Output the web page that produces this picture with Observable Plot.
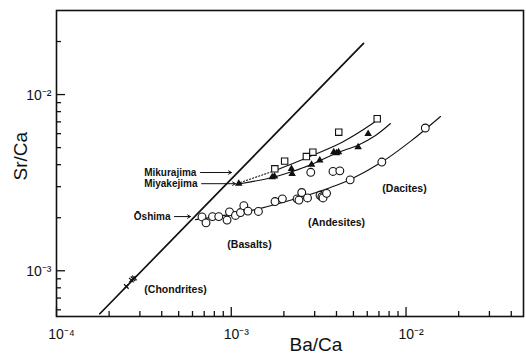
<!DOCTYPE html>
<html><head><meta charset="utf-8">
<script src="https://cdn.jsdelivr.net/npm/d3@7"></script>
<script src="https://cdn.jsdelivr.net/npm/@observablehq/plot@0.6"></script>
<style>body{margin:0;background:#fff;font-family:"Liberation Sans",Arial,sans-serif;}</style>
</head><body><div id="chart"></div>
<script>
// ---- data (Ba/Ca, Sr/Ca) ----
const oshimaBa = [6.80e-4, 7.17e-4, 7.81e-4, 8.48e-4, 9.46e-4, 9.77e-4, 1.057e-3, 1.129e-3, 1.18e-3, 1.246e-3, 1.43e-3, 1.78e-3, 1.96e-3, 2.38e-3, 2.44e-3, 2.53e-3, 2.73e-3, 3.22e-3, 3.30e-3, 3.35e-3, 3.51e-3, 2.85e-3, 3.82e-3, 4.18e-3, 4.79e-3, 7.27e-3, 1.289e-2];
const oshimaSr = [2.02e-3, 1.87e-3, 2.03e-3, 2.03e-3, 1.94e-3, 2.16e-3, 2.06e-3, 2.14e-3, 2.34e-3, 2.18e-3, 2.17e-3, 2.47e-3, 2.56e-3, 2.56e-3, 2.52e-3, 2.78e-3, 2.59e-3, 2.68e-3, 2.63e-3, 2.59e-3, 2.75e-3, 3.62e-3, 3.66e-3, 3.69e-3, 3.28e-3, 4.14e-3, 6.46e-3];
const miyakeBa = [1.104e-3, 1.715e-3, 1.767e-3, 2.21e-3, 2.23e-3, 2.88e-3, 3.21e-3, 3.86e-3, 4.0e-3, 4.11e-3, 5.32e-3, 6.07e-3];
const miyakeSr = [3.12e-3, 3.40e-3, 3.43e-3, 3.79e-3, 3.55e-3, 4.0e-3, 4.23e-3, 4.71e-3, 4.66e-3, 4.71e-3, 5.03e-3, 5.99e-3];
const mikuraBa = [1.775e-3, 2.02e-3, 2.69e-3, 2.93e-3, 4.12e-3, 6.84e-3];
const mikuraSr = [3.79e-3, 4.19e-3, 4.45e-3, 4.71e-3, 6.12e-3, 7.29e-3];
const chondBa = [2.51e-4, 2.68e-4, 2.74e-4, 2.79e-4];
const chondSr = [8.14e-4, 8.85e-4, 9.0e-4, 9.1e-4];

// trend curves
const oshimaTrendBa = [6.24e-4, 9.9e-4, 1.47e-3, 2.49e-3, 3.70e-3, 4.81e-3, 7.27e-3, 1.06e-2, 1.575e-2];
const oshimaTrendSr = [1.95e-3, 2.09e-3, 2.26e-3, 2.61e-3, 2.97e-3, 3.30e-3, 4.14e-3, 5.42e-3, 7.51e-3];
const miyakeTrendBa = [1.10e-3, 1.722e-3, 2.24e-3, 2.88e-3, 3.95e-3, 5.35e-3, 6.69e-3, 8.15e-3];
const miyakeTrendSr = [3.11e-3, 3.38e-3, 3.66e-3, 4.01e-3, 4.63e-3, 5.18e-3, 5.86e-3, 6.85e-3];
const mikuraTrendBa = [1.79e-3, 2.90e-3, 4.31e-3, 6.40e-3, 7.14e-3];
const mikuraTrendSr = [3.71e-3, 4.51e-3, 5.37e-3, 6.83e-3, 7.41e-3];
const mikuraDotBa = [1.129e-3, 1.79e-3];
const mikuraDotSr = [3.17e-3, 3.71e-3];
const chondLineBa = [1.77e-4, 5.71e-3];
const chondLineSr = [5.70e-4, 1.95e-2];

// annotations
const islandNames = ["Mikurajima", "Miyakejima", "Ōshima"];
const islandTextBa = [6.32e-4, 6.41e-4, 4.49e-4];
const islandTextSr = [3.61e-3, 3.12e-3, 2.03e-3];
const islandArrowBa1 = [6.67e-4, 6.76e-4, 4.73e-4];
const islandArrowBa2 = [1.003e-3, 1.057e-3, 5.84e-4];
const rockNames = ["(Basalts)", "(Andesites)", "(Dacites)", "(Chondrites)"];
const rockBa = [1.272e-3, 4.0e-3, 9.8e-3, 4.80e-4];
const rockSr = [1.41e-3, 1.88e-3, 2.93e-3, 7.83e-4];

// ticks
const xMajor = [1e-4, 1e-3, 1e-2];
const xMinor = [2e-4,3e-4,4e-4,5e-4,6e-4,7e-4,8e-4,9e-4,2e-3,3e-3,4e-3,5e-3,6e-3,7e-3,8e-3,9e-3,2e-2,3e-2,4e-2];
const yMajor = [1e-3, 1e-2];
const yMinor = [6e-4,7e-4,8e-4,9e-4,2e-3,3e-3,4e-3,5e-3,6e-3,7e-3,8e-3,9e-3,2e-2];

const zip = (a, b) => a.map((v, i) => ({x: v, y: b[i]}));
const sup = {"-": "⁻", "0":"⁰","1":"¹","2":"²","3":"³","4":"⁴","5":"⁵","6":"⁶","7":"⁷","8":"⁸","9":"⁹"};
const pow = d => "10" + String(Math.round(Math.log10(d))).split("").map(c => sup[c]).join("");

const islands = islandNames.map((n, i) => ({n, x: islandTextBa[i], y: islandTextSr[i], x1: islandArrowBa1[i], x2: islandArrowBa2[i]}));
const rocks = rockNames.map((n, i) => ({n, x: rockBa[i], y: rockSr[i]}));
const font = "Liberation Sans, Arial, sans-serif";

const chart = Plot.plot({
  width: 526, height: 359,
  marginLeft: 56, marginRight: 3, marginTop: 10, marginBottom: 43,
  style: {fontFamily: font, background: "#fff", color: "#111"},
  x: {type: "log", domain: [1e-4, 4.7e-2]},
  y: {type: "log", domain: [5.5e-4, 3e-2]},
  marks: [
    Plot.axisX(xMinor, {tickSize: -5, tickFormat: () => "", label: null, strokeWidth: 1.3}),
    Plot.axisX(xMajor, {tickSize: -9, tickFormat: () => "", label: null, strokeWidth: 1.3}),
    Plot.axisY(yMinor, {tickSize: -5, tickFormat: () => "", label: null, strokeWidth: 1.3}),
    Plot.axisY(yMajor, {tickSize: -9, tickFormat: () => "", label: null, strokeWidth: 1.3}),
    Plot.text(xMajor, {x: d => d, frameAnchor: "bottom", text: pow, lineAnchor: "top", dy: 13, dx: 5, fontSize: 14, fill: "#111"}),
    Plot.text(yMajor, {y: d => d, frameAnchor: "left", text: pow, textAnchor: "end", dx: -5, dy: 1, fontSize: 14, fill: "#111"}),
    Plot.frame({stroke: "#111", strokeWidth: 1.6}),
    Plot.line(zip(chondLineBa, chondLineSr), {x: "x", y: "y", stroke: "#111", strokeWidth: 1.7}),
    Plot.line(zip(oshimaTrendBa, oshimaTrendSr), {x: "x", y: "y", stroke: "#111", strokeWidth: 1.1, curve: "catmull-rom"}),
    Plot.line(zip(miyakeTrendBa, miyakeTrendSr), {x: "x", y: "y", stroke: "#111", strokeWidth: 1.1, curve: "catmull-rom"}),
    Plot.line(zip(mikuraTrendBa, mikuraTrendSr), {x: "x", y: "y", stroke: "#111", strokeWidth: 1.1, curve: "catmull-rom"}),
    Plot.line(zip(mikuraDotBa, mikuraDotSr), {x: "x", y: "y", stroke: "#111", strokeWidth: 1.1, strokeDasharray: "1.2,2"}),
    Plot.dot(zip(oshimaBa, oshimaSr), {x: "x", y: "y", r: 3.9, stroke: "#111", fill: "white", strokeWidth: 1.1}),
    Plot.dot(zip(mikuraBa, mikuraSr), {x: "x", y: "y", r: 3.6, symbol: "square", stroke: "#111", fill: "white", strokeWidth: 1.1}),
    Plot.dot(zip(miyakeBa, miyakeSr), {x: "x", y: "y", r: 2.8, symbol: "triangle", fill: "#111", stroke: "none"}),
    Plot.dot(zip(chondBa, chondSr), {x: "x", y: "y", r: 2.2, symbol: "times", stroke: "#111", strokeWidth: 1.2}),
    Plot.arrow(islands, {x1: "x1", x2: "x2", y1: "y", y2: "y", stroke: "#111", strokeWidth: 1, headLength: 5}),
    Plot.text(islands, {x: "x", y: "y", text: "n", textAnchor: "end", fontSize: 10, fontWeight: "bold", fill: "#111"}),
    Plot.text(rocks, {x: "x", y: "y", text: "n", fontSize: 10.5, fontWeight: "bold", fill: "#111"}),
    Plot.text(["Ba/Ca"], {frameAnchor: "bottom", text: d => d, dx: 26, dy: 34, fontSize: 19, fill: "#111"}),
    Plot.text(["Sr/Ca"], {frameAnchor: "left", text: d => d, rotate: -90, dx: -36, dy: 17, fontSize: 19, fill: "#111"})
  ]
});
document.getElementById("chart").appendChild(chart);
</script></body></html>
